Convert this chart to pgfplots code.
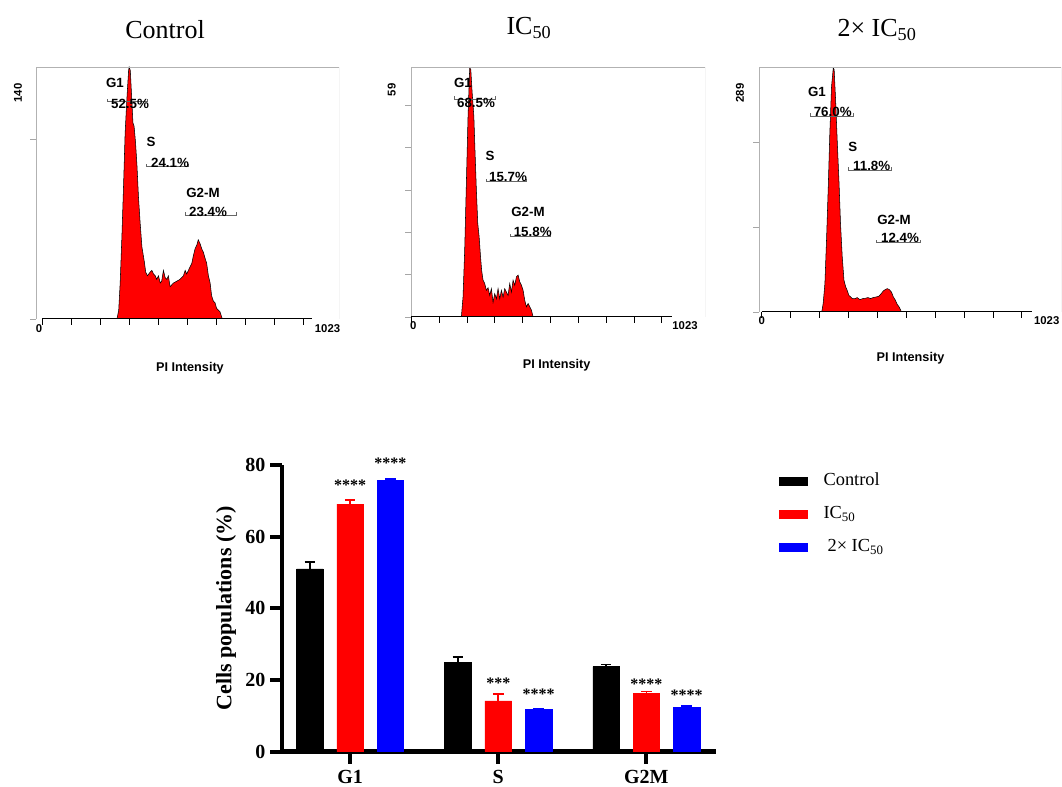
\documentclass[border=0pt]{standalone}
\usepackage{fontspec}
\setmainfont{Liberation Serif}
\newfontfamily\arial{Liberation Sans}
\usepackage{pgfplots}
\pgfplotsset{compat=1.18}

\pgfplotsset{
  histo/.style={
    scale only axis, anchor=south west,
    ymin=0, axis line style={draw=none},
    tick align=outside, xtick pos=bottom, ytick pos=left,
    xtick={0,100,...,900}, xticklabels={}, yticklabels={},
    major tick length=4.5pt,
    xtick style={black, thin},
    ytick style={gray!70, thin},
  },
  histfill/.style={fill=red, draw=black, line width=0.4pt},
  barerr/.style={error bars/y dir=plus, error bars/y explicit,
    error bars/error bar style={line width=1.2pt, #1},
    error bars/error mark options={rotate=90, line width=1.2pt, mark size=4pt, #1}},
}
\newcommand{\annfont}{\arial\bfseries\fontsize{10}{12}\selectfont}
\newcommand{\smallfont}{\arial\bfseries\fontsize{8.5}{10}\selectfont}

\begin{document}
\begin{tikzpicture}[x=0.75pt,y=0.75pt]
\useasboundingbox (0,0) rectangle (1062,787);

% ---- histogram: control
\begin{axis}[histo, at={(27pt,351pt)}, width=227.25pt, height=189pt,
  xmin=-21, xmax=1023, ymax=140, ytick={0,100}]
\addplot[histfill] coordinates {
(258,0)(264,5)(269,20)(275,46)(281,76)(286,103)(292,122)(298,138)(300,140)(304,138)
(309,122)(313,109)(317,107)(322,98)(327,85)(332,68)(338,53)(344,40)(349,35)(353,31)
(357,26)(363,24)(372,26)(378,27)(384,25)(390,24)(395,22)(401,24)(407,20)(412,21)
(418,27)(424,23)(430,22)(435,24)(441,18)(447,19)(453,20)(464,21)(475,22)(487,24)
(493,27)(498,25)(504,27)(510,29)(516,31)(521,35)(527,39)(533,41)(538,44)(544,42)
(550,39)(556,37)(561,34)(567,31)(573,24)(579,20)(584,13)(590,10)(596,9)(601,6)
(607,5)(613,4)(619,1)(621,0)} \closedcycle;
\draw[gray!60] (rel axis cs:0,0) -- (rel axis cs:0,1) -- (rel axis cs:1,1) -- (rel axis cs:1,0);
\draw[black, line width=0.9pt] (axis cs:0,0) -- (axis cs:930,0);
\end{axis}

% ---- histogram: IC50
\begin{axis}[histo, at={(308.25pt,352.5pt)}, width=220.5pt, height=187.5pt,
  xmin=-1, xmax=1056, ymax=59, ytick={0,10,...,50}]
\addplot[histfill] coordinates {
(180,0)(186,4.7)(192,15.8)(198,31.5)(204,47.3)(210,58.8)(214,58.4)(219,52.8)(225,47.3)
(229,39.4)(234,30)(239,22.1)(244,18.9)(249,14.2)(253,11)(258,8.7)(264,7.9)(270,6.3)
(276,6.9)(282,5.1)(288,6.7)(294,3.5)(300,5.5)(306,4.3)(312,6.7)(318,4.3)(324,6.3)
(330,4.7)(336,6.7)(342,5.9)(348,5.1)(354,7.9)(360,5.9)(366,8.7)(372,7.5)(378,9.5)
(384,9.9)(390,8.3)(396,7.5)(402,6.3)(408,3.9)(414,2.4)(420,3.2)(426,2.4)(432,1.6)
(438,0)} \closedcycle;
\draw[gray!60] (rel axis cs:0,0) -- (rel axis cs:0,1) -- (rel axis cs:1,1) -- (rel axis cs:1,0);
\draw[black, line width=0.9pt] (axis cs:0,0) -- (axis cs:936,0);
\end{axis}

% ---- histogram: 2x IC50
\begin{axis}[histo, at={(569.25pt,356.25pt)}, width=226.5pt, height=183.75pt,
  xmin=-9, xmax=1036, ymax=289, ytick={0,100,200}]
\addplot[histfill] coordinates {
(208,0)(213,9.9)(219,33.5)(225,88.7)(231,151.8)(236,211)(242,266.2)(248,288)(251,285.9)
(256,250.4)(262,199.1)(268,151.8)(273,104.5)(279,65.1)(285,37.5)(291,29.6)(296,25.6)
(302,19.7)(308,17.7)(314,15.8)(323,15.8)(331,17)(340,14.6)(350,15.8)(359,16.2)(368,17)
(377,15.8)(386,17)(396,17.7)(405,18.5)(414,21.7)(421,24.8)(428,26.4)(435,27.6)
(442,26.4)(449,23.7)(456,17.7)(463,13.8)(469,9.1)(476,5.9)(484,0)} \closedcycle;
\draw[gray!60] (rel axis cs:0,0) -- (rel axis cs:0,1) -- (rel axis cs:1,1) -- (rel axis cs:1,0);
\draw[black, line width=0.9pt] (axis cs:0,0) -- (axis cs:934,0);
\end{axis}

% titles
\node[font=\fontsize{19.5}{22}\selectfont] at (165,757) {Control};
\node[font=\fontsize{19.5}{22}\selectfont] at (529,759) {IC\textsubscript{50}};
\node[font=\fontsize{19.5}{22}\selectfont] at (877,757) {2×~IC\textsubscript{50}};

% axis texts of histograms
\foreach \x/\y/\t in {18/694/140, 391.7/697/59, 740/694/289}
  \node[font=\smallfont, rotate=90] at (\x,\y) {\t};
\foreach \x/\y/\t in {39/458/0, 327.5/458/1023, 413.3/461/0, 685/461/1023, 761.7/466/0, 1046.7/466/1023}
  \node[font=\smallfont] at (\x,\y) {\t};
\foreach \x/\y in {190/419, 556.7/422, 910.5/429}
  \node[font=\arial\bfseries\fontsize{9.5}{11}\selectfont] at (\x,\y) {PI Intensity};

% gate markers and labels
\foreach \a/\b/\g in {107/147/685.3, 146/188.3/620.3, 185/236/572,
                      454/495/688, 486/526.7/605.3, 510/550/550.3,
                      810/853/671, 848/891.7/617, 876/920/544.3}
  \draw[gray!80!black, line width=0.5pt] (\a,\g+2.5) -- (\a,\g) -- (\b,\g) -- (\b,\g+2.5);
\foreach \x/\y/\t in {115/704/G1, 130/683/52.5\%, 151/645.3/S, 170/624/24.1\%, 203/594/G2-M, 208/575.3/23.4\%,
                      463/704/G1, 476/684/68.5\%, 490/631/S, 508/610.3/15.7\%, 528/575.3/G2-M, 532.7/555.3/15.8\%,
                      817/695.3/G1, 832.7/675.3/76.0\%, 852.7/640.3/S, 871.7/621/11.8\%, 894/567/G2-M, 900/549/12.4\%}
  \node[font=\annfont, inner sep=0pt] at (\x,\y) {\t};

% ---- bar chart (groups at 0,1,2; series offset by -0.272, 0, +0.272)
\begin{axis}[at={(211.5pt,26.5pt)}, anchor=south west, scale only axis,
  width=325.5pt, height=215pt,
  xmin=-0.46, xmax=2.47, ymin=0, ymax=80, clip=false,
  axis lines=left, axis line style={-, line width=3.5pt},
  xtick={0,1,2}, xticklabels={G1,S,G2M}, ytick={0,20,...,80},
  tick align=outside, major tick length=9pt,
  tick style={black, line width=3pt},
  /pgf/number format/assume math mode=true,
  ticklabel style={font=\bfseries\fontsize{15}{17}\selectfont},
  xticklabel style={yshift=-1.5pt},
  ylabel={Cells populations (\%)},
  ylabel style={font=\bfseries\fontsize{16.5}{19}\selectfont},
  legend cell align=left,
  legend style={at={(1.1452,0.9756)}, anchor=north west, draw=none, fill=none,
    inner sep=0pt, row sep=11.75pt, column sep=12pt,
    font=\fontsize{13.8}{16}\selectfont,
    nodes={inner sep=0pt, text height=10pt, text depth=3pt}},
]
\addplot[ybar, bar width=0.18, bar shift=0pt, fill=black, draw=black, barerr=black,
  legend image code/.code={\fill[black] (0pt,-3pt) rectangle (20.8pt,3pt);}]
  coordinates {(-0.272,51.0) +- (0,2.0) (0.728,24.9) +- (0,1.6) (1.728,23.7) +- (0,0.6)};
\addlegendentry{Control}
\addplot[ybar, bar width=0.18, bar shift=0pt, fill=red, draw=red, barerr=red,
  legend image code/.code={\fill[red] (0pt,-3pt) rectangle (20.8pt,3pt);}]
  coordinates {(0,69.1) +- (0,1.1) (1,14.2) +- (0,1.9) (2,16.3) +- (0,0.5)};
\addlegendentry{IC\textsubscript{50}}
\addplot[ybar, bar width=0.18, bar shift=0pt, fill=blue, draw=blue, barerr=blue,
  legend image code/.code={\fill[blue] (0pt,-3pt) rectangle (20.8pt,3pt);}]
  coordinates {(0.272,75.7) +- (0,0.4) (1.272,11.8) +- (0,0.2) (2.272,12.4) +- (0,0.3)};
\addlegendentry{\hspace{3pt}2×~IC\textsubscript{50}}
\addplot[draw=none, mark=none, forget plot, nodes near coords, point meta=explicit symbolic,
  every node near coord/.append style={anchor=south, inner sep=0pt,
    font=\bfseries\fontsize{12}{12}\selectfont}]
  coordinates {(0,72.9)[****] (0.272,79.0)[****] (1,17.6)[***] (1.272,14.6)[****]
               (2,17.4)[****] (2.272,14.3)[****]};
\end{axis}
\end{tikzpicture}
\end{document}
